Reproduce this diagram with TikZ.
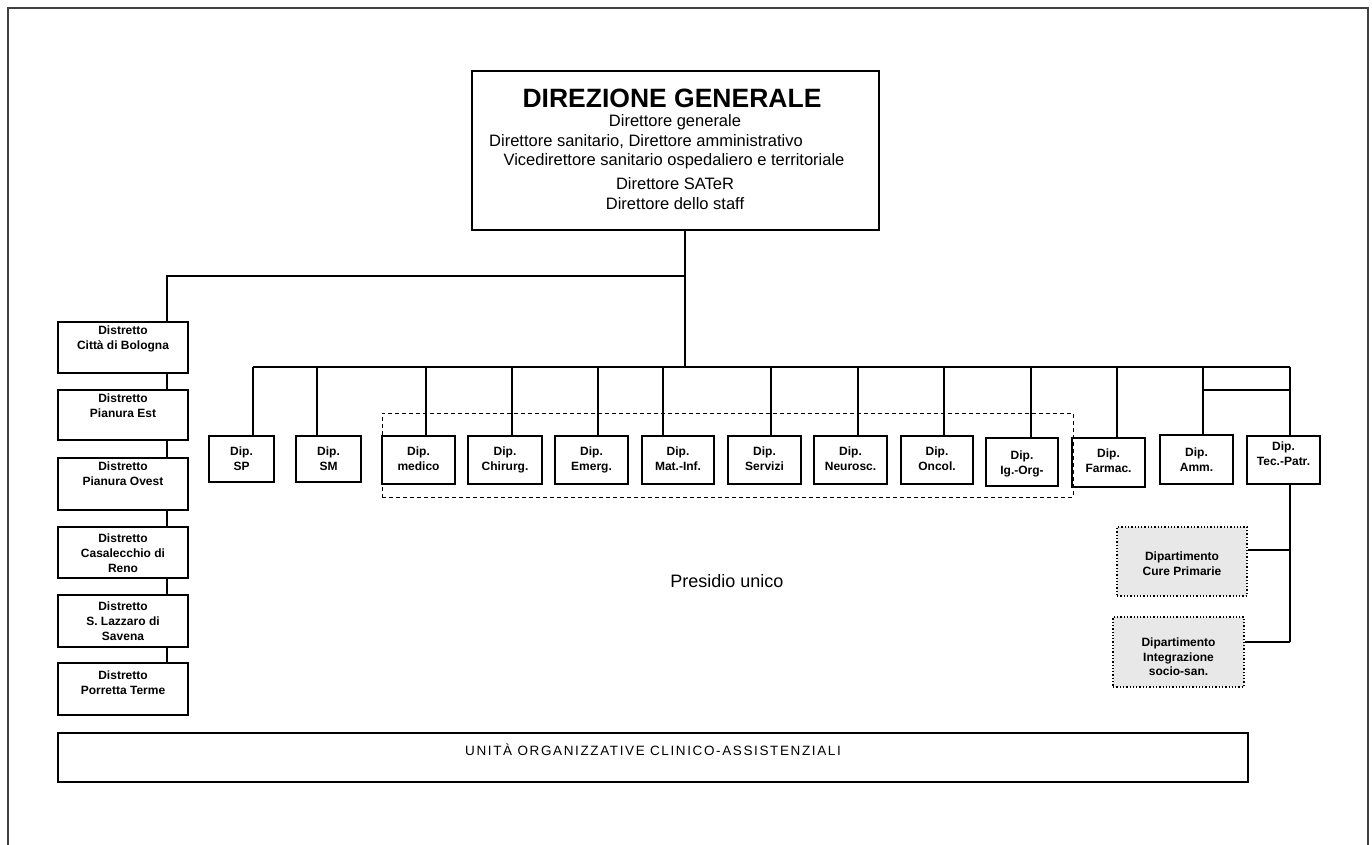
\documentclass[tikz,border=0pt]{standalone}
\usepackage{fontspec}
\setmainfont{Liberation Sans}
\usetikzlibrary{fit}
\begin{document}
\begin{tikzpicture}[x=1pt,y=-1pt,
  bx/.style={draw, line width=1.5pt, inner sep=0pt},
  gbx/.style={draw, line width=1.3pt, dotted, fill=black!9, inner sep=0pt},
  ln/.style={line width=1.5pt},
  bt/.style={font=\bfseries\fontsize{12}{15}\selectfont, align=center, anchor=north, inner sep=0pt},
  gt/.style={font=\bfseries\fontsize{12}{14.5}\selectfont, align=center, inner sep=0pt},
  dgl/.style={font=\fontsize{16.5}{19}\selectfont, inner sep=0pt},
]
\useasboundingbox (0,0) rectangle (1372,844);
% outer frame
\draw[line width=1.5pt, black!75] (8,900) -- (8,8) -- (1368,8) -- (1368,900);

% Direzione generale
\node[bx, fit={(472,71) (879,230)}] (dg) {};
\node[font=\bfseries\fontsize{26.5}{30}\selectfont, inner sep=0pt] (dgtitle) at (672,98) {DIREZIONE GENERALE};
\node[dgl] (dg1) at (675,122) {Direttore generale};
\node[dgl] (dg2) at (646,142) {Direttore sanitario, Direttore amministrativo};
\node[dgl] (dg3) at (674,161) {Vicedirettore sanitario ospedaliero e territoriale};
\node[dgl] (dg4) at (675,184) {Direttore SATeR};
\node[dgl] (dg5) at (675,204) {Direttore dello staff};

% Distretti
\node[bx, fit={(58,322) (188,373)}] (d1) {};
\node[bx, fit={(58,390) (188,440)}] (d2) {};
\node[bx, fit={(58,458) (188,510)}] (d3) {};
\node[bx, fit={(58,527) (188,578)}] (d4) {};
\node[bx, fit={(58,595) (188,647)}] (d5) {};
\node[bx, fit={(58,663) (188,715)}] (d6) {};
\node[bt] (d1t) at ([yshift=-4pt]d1.north) {Distretto\\Città di Bologna};
\node[bt] (d2t) at ([yshift=-4pt]d2.north) {Distretto\\Pianura Est};
\node[bt] (d3t) at ([yshift=-4pt]d3.north) {Distretto\\Pianura Ovest};
\node[bt] (d4t) at ([yshift=-7pt]d4.north) {Distretto\\Casalecchio di\\Reno};
\node[bt] (d5t) at ([yshift=-7pt]d5.north) {Distretto\\S. Lazzaro di\\Savena};
\node[bt] (d6t) at ([yshift=-8pt]d6.north) {Distretto\\Porretta Terme};

% Dipartimenti
\node[bx, fit={(209,436) (274,482)}] (sp) {};
\node[bx, fit={(296,436) (361,482)}] (sm) {};
\node[bx, fit={(382,436) (455,484)}] (med) {};
\node[bx, fit={(468,436) (542,484)}] (chi) {};
\node[bx, fit={(555,436) (628,484)}] (eme) {};
\node[bx, fit={(642,436) (714,484)}] (mat) {};
\node[bx, fit={(728,436) (801,484)}] (ser) {};
\node[bx, fit={(814,436) (887,484)}] (neu) {};
\node[bx, fit={(901,436) (973,484)}] (onc) {};
\node[bx, fit={(986,438) (1058,486)}] (igo) {};
\node[bx, fit={(1072,438) (1145,487)}] (far) {};
\node[bx, fit={(1160,435) (1233,484)}] (amm) {};
\node[bx, fit={(1247,436) (1320,484)}] (tec) {};
\node[bt] (spt) at ([yshift=-11pt]sp.north) {Dip.\\SP};
\node[bt] (smt) at ([yshift=-11pt]sm.north) {Dip.\\SM};
\node[bt] (medt) at ([yshift=-11pt]med.north) {Dip.\\medico};
\node[bt] (chit) at ([yshift=-11pt]chi.north) {Dip.\\Chirurg.};
\node[bt] (emet) at ([yshift=-11pt]eme.north) {Dip.\\Emerg.};
\node[bt] (matt) at ([yshift=-11pt]mat.north) {Dip.\\Mat.-Inf.};
\node[bt] (sert) at ([yshift=-11pt]ser.north) {Dip.\\Servizi};
\node[bt] (neut) at ([yshift=-11pt]neu.north) {Dip.\\Neurosc.};
\node[bt] (onct) at ([yshift=-11pt]onc.north) {Dip.\\Oncol.};
\node[bt] (igot) at ([yshift=-13pt]igo.north) {Dip.\\Ig.-Org-};
\node[bt] (fart) at ([yshift=-11pt]far.north) {Dip.\\Farmac.};
\node[bt] (ammt) at ([yshift=-13pt]amm.north) {Dip.\\Amm.};
\node[bt] (tect) at ([yshift=-6pt]tec.north) {Dip.\\Tec.-Patr.};

% dashed presidio frame
\node[draw, dashed, line width=0.9pt, dash pattern=on 4pt off 3pt, inner sep=0pt, fit={(382,413) (1073,497)}] (pres) {};
\node[font=\fontsize{18}{21}\selectfont, inner sep=0pt] (prest) at (727,581) {Presidio unico};

% gray departments
\node[gbx, fit={(1117,527) (1247,596)}] (cp) {};
\node[gbx, fit={(1113,617) (1244,687)}] (is) {};
\node[gt] (cpt) at ([yshift=-2pt]cp.center) {Dipartimento\\Cure Primarie};
\node[gt] (ist) at ([yshift=-5pt]is.center) {Dipartimento\\Integrazione\\socio-san.};

% bottom box
\node[bx, fit={(58,733) (1248,782)}] (uo) {};
\node[font=\addfontfeature{LetterSpace=12}\fontsize{13.5}{15}\selectfont, inner sep=0pt] (uot) at (653,750) {UNITÀ ORGANIZZATIVE CLINICO-ASSISTENZIALI};

% connectors
\coordinate (bus) at (685,367);
\coordinate (br) at (685,276);
\draw[ln] (dg.south -| bus) -- (bus);
\draw[ln] (br) -| (d1.north -| 167,0);
\foreach \a/\b in {d1/d2,d2/d3,d3/d4,d4/d5,d5/d6}{
  \draw[ln] (\a.south -| 167,0) -- (\b.north -| 167,0);
}
\draw[ln] (253,367) -- (1290,367);
\foreach \n/\x in {sp/253,sm/317,med/426,chi/512,eme/598,mat/663,ser/771,neu/858,onc/944,igo/1031,far/1117,amm/1203,tec/1290}{
  \draw[ln] (\x,367) -- (\n.north -| \x,0);
}
\draw[ln] (1203,390) -- (1290,390);
\draw[ln] (tec.south -| 1290,0) -- (1290,642);
\draw[ln] (1290,550) -- (cp.east |- 0,550);
\draw[ln] (1290,642) -- (is.east |- 0,642);
\end{tikzpicture}
\end{document}
